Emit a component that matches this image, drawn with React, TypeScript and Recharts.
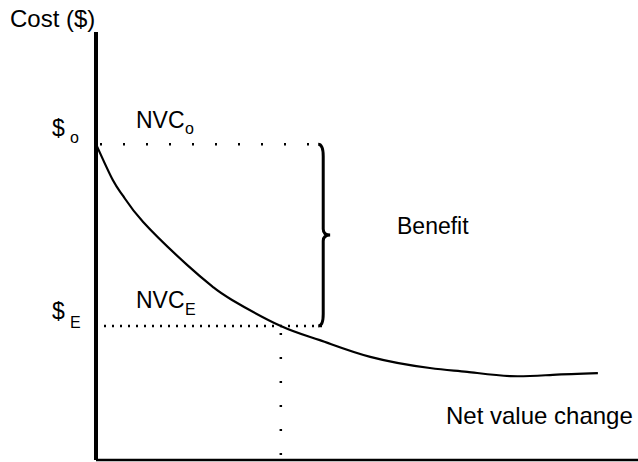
import React from 'react';
import { ComposedChart, Line, XAxis, YAxis, ReferenceLine, ReferenceArea, Customized } from 'recharts';

// Curve (x: net value change, y: cost), arbitrary 0-100 units
const valueChange = [0, 3.1, 5.0, 8.7, 16.8, 21.6, 25.1, 34.1, 41.3, 50.6, 61.6, 68.5, 76.4, 84.3, 92.6];
const cost = [73.8, 65.4, 61.7, 55.6, 45.6, 40.4, 37.4, 31.3, 28.0, 24.1, 21.5, 20.6, 19.6, 19.9, 20.3];

const costO = 73.8;      // $o / NVCo level
const costE = 31.3;      // $E / NVCE level
const nvcE = 34.1;       // x where the curve meets $E
const topDotEnd = 41;
const bottomDotEnd = 41.7;
const braceEnd = 43.2;

const data = valueChange.map((x, i) => ({ x, cost: cost[i] }));

const FONT = '"Liberation Sans", Arial, Helvetica, sans-serif';

const Brace = (props: any) => {
  const { x, y, width, height } = props;
  const x0 = x;
  const y0 = y;
  const y1 = y + height;
  const mid = y + height / 2;
  const b = x0 + 5;
  const tip = x0 + width;
  const d = `M ${x0} ${y0} Q ${b} ${y0} ${b} ${y0 + 12} L ${b} ${mid - 6} Q ${b} ${mid} ${tip} ${mid} Q ${b} ${mid} ${b} ${mid + 6} L ${b} ${y1 - 12} Q ${b} ${y1} ${x0} ${y1}`;
  return <path d={d} fill="none" stroke="#000" strokeWidth={3} />;
};

const Labels = () => (
  <g fontFamily={FONT} fill="#000">
    <text x={10} y={27} fontSize={24}>Cost ($)</text>
    <text x={52} y={136} fontSize={23}>$</text>
    <text x={70} y={143} fontSize={16}>o</text>
    <text x={136} y={128} fontSize={23}>NVC</text>
    <text x={185} y={134} fontSize={16}>o</text>
    <text x={52} y={319} fontSize={23}>$</text>
    <text x={70} y={328} fontSize={16}>E</text>
    <text x={136} y={308} fontSize={23}>NVC</text>
    <text x={185} y={315} fontSize={16}>E</text>
    <text x={397} y={234} fontSize={23}>Benefit</text>
    <text x={446} y={424} fontSize={24}>Net value change</text>
  </g>
);

export default function App() {
  return (
    <div style={{ position: 'absolute', left: 0, top: 0, width: 638, height: 462, background: '#fff' }}>
      <ComposedChart width={638} height={462} data={data} margin={{ top: 32, right: 0, bottom: 2, left: 96 }}>
        <XAxis dataKey="x" type="number" domain={[0, 100]} hide />
        <YAxis type="number" domain={[0, 100]} hide />
        <ReferenceLine
          segment={[{ x: 0, y: 0 }, { x: 0, y: 100 }]}
          stroke="#000"
          strokeWidth={4}
        />
        <ReferenceLine
          segment={[{ x: 0, y: 0 }, { x: 100, y: 0 }]}
          stroke="#000"
          strokeWidth={2.5}
        />
        <ReferenceLine
          segment={[{ x: 0, y: costO }, { x: topDotEnd, y: costO }]}
          stroke="#000"
          strokeWidth={2.5}
          strokeDasharray="2 21"
          strokeDashoffset={-4}
        />
        <ReferenceLine
          segment={[{ x: 0, y: costE }, { x: bottomDotEnd, y: costE }]}
          stroke="#000"
          strokeWidth={2.5}
          strokeDasharray="2 6"
        />
        <ReferenceLine
          segment={[{ x: nvcE, y: costE }, { x: nvcE, y: 0 }]}
          stroke="#000"
          strokeWidth={2.5}
          strokeDasharray="2 22"
          strokeDashoffset={-7}
        />
        <ReferenceArea
          x1={topDotEnd}
          x2={braceEnd}
          y1={costE}
          y2={costO}
          shape={Brace}
        />
        <Line
          type="natural"
          dataKey="cost"
          stroke="#000"
          strokeWidth={2.2}
          dot={false}
          isAnimationActive={false}
        />
        <Customized component={<Labels />} />
      </ComposedChart>
    </div>
  );
}
